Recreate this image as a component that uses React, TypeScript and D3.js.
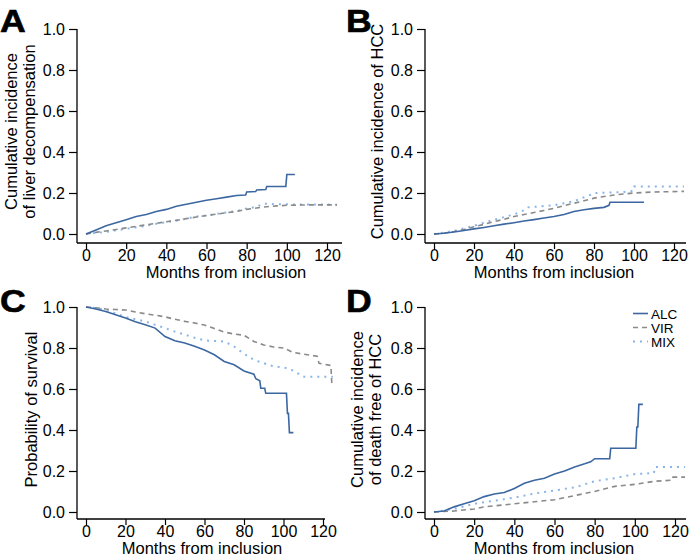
import React, { useRef, useEffect } from 'react';
import * as d3 from 'd3';

// x and y ticks shared by all four panels
const monthTicks = [0, 20, 40, 60, 80, 100, 120];
const probTicks = [0, 0.2, 0.4, 0.6, 0.8, 1.0];

const groups = ['ALC', 'VIR', 'MIX'];

// A: liver decompensation (jumps written as two close points)
const decompALC = [[0, 0], [5, 0.02], [10, 0.04], [15, 0.055], [20, 0.07], [25, 0.085], [30, 0.095], [35, 0.11], [40, 0.12], [45, 0.135], [50, 0.145], [55, 0.155], [60, 0.165], [65, 0.172], [70, 0.18], [75, 0.188], [79.5, 0.19], [80, 0.205], [84.5, 0.207], [85, 0.215], [89.5, 0.217], [90, 0.232], [99.5, 0.232], [100, 0.29], [104, 0.29]];
const decompVIR = [[0, 0], [5, 0.008], [10, 0.015], [15, 0.022], [20, 0.03], [25, 0.037], [30, 0.045], [35, 0.052], [40, 0.06], [45, 0.067], [50, 0.075], [55, 0.083], [60, 0.09], [65, 0.097], [70, 0.104], [75, 0.11], [80, 0.12], [85, 0.127], [90, 0.133], [95, 0.137], [100, 0.14], [110, 0.142], [125, 0.142]];
const decompMIX = [[0, 0], [5, 0.005], [10, 0.01], [15, 0.018], [20, 0.025], [25, 0.033], [30, 0.04], [35, 0.05], [40, 0.058], [45, 0.065], [50, 0.075], [55, 0.085], [60, 0.09], [65, 0.098], [70, 0.105], [75, 0.112], [80, 0.125], [85, 0.132], [88, 0.148], [95, 0.145], [125, 0.143]];

// B: HCC
const hccALC = [[0, 0], [5, 0.004], [10, 0.01], [15, 0.017], [20, 0.025], [25, 0.032], [30, 0.04], [35, 0.048], [40, 0.055], [45, 0.063], [50, 0.07], [55, 0.078], [60, 0.085], [65, 0.095], [70, 0.11], [75, 0.118], [80, 0.125], [85, 0.13], [87.5, 0.14], [88, 0.155], [105, 0.155]];
const hccVIR = [[0, 0], [5, 0.004], [10, 0.012], [15, 0.022], [20, 0.035], [25, 0.047], [30, 0.06], [35, 0.072], [40, 0.085], [45, 0.095], [50, 0.105], [55, 0.115], [60, 0.125], [65, 0.138], [70, 0.15], [75, 0.162], [80, 0.175], [85, 0.183], [90, 0.19], [95, 0.195], [100, 0.2], [110, 0.205], [125, 0.208]];
const hccMIX = [[0, 0], [10, 0.015], [20, 0.04], [30, 0.07], [40, 0.095], [46, 0.12], [47, 0.13], [60, 0.14], [70, 0.16], [78, 0.19], [80, 0.2], [95, 0.205], [99.5, 0.21], [100, 0.232], [125, 0.232]];

// C: overall survival
const survALC = [[0, 1], [5, 0.99], [10, 0.978], [15, 0.962], [20, 0.946], [25, 0.928], [30, 0.913], [35, 0.897], [40, 0.856], [45, 0.835], [50, 0.824], [55, 0.808], [60, 0.79], [65, 0.767], [70, 0.734], [75, 0.718], [80, 0.688], [85, 0.672], [86, 0.65], [88, 0.64], [88.5, 0.604], [90.5, 0.604], [91, 0.579], [101.5, 0.579], [102, 0.481], [102.5, 0.481], [103, 0.387], [105, 0.387]];
const survVIR = [[0, 1], [5, 0.996], [10, 0.99], [15, 0.988], [20, 0.985], [25, 0.976], [30, 0.967], [35, 0.96], [40, 0.952], [45, 0.94], [50, 0.93], [55, 0.922], [60, 0.912], [65, 0.895], [70, 0.878], [75, 0.868], [80, 0.862], [85, 0.832], [90, 0.815], [95, 0.805], [100, 0.8], [105, 0.778], [110, 0.77], [117, 0.76], [118, 0.725], [124, 0.715], [124.5, 0.62]];
const survMIX = [[0, 1], [5, 0.995], [10, 0.985], [15, 0.968], [20, 0.951], [25, 0.94], [30, 0.93], [35, 0.913], [40, 0.897], [45, 0.88], [50, 0.865], [55, 0.85], [60, 0.837], [70, 0.832], [75, 0.807], [80, 0.772], [85, 0.742], [90, 0.726], [95, 0.71], [100, 0.706], [105, 0.69], [110, 0.66], [125, 0.66]];

// D: death free of HCC
const deathALC = [[0, 0], [5, 0.005], [10, 0.025], [15, 0.04], [20, 0.055], [25, 0.075], [30, 0.088], [35, 0.095], [40, 0.115], [45, 0.14], [50, 0.155], [55, 0.165], [60, 0.185], [65, 0.2], [70, 0.22], [75, 0.235], [78, 0.245], [80, 0.26], [87.5, 0.26], [88, 0.311], [100.5, 0.311], [101, 0.415], [101.5, 0.415], [102, 0.525], [104, 0.525]];
const deathVIR = [[0, 0], [10, 0.005], [20, 0.015], [25, 0.025], [30, 0.03], [40, 0.04], [50, 0.05], [60, 0.06], [70, 0.08], [80, 0.1], [90, 0.125], [100, 0.135], [110, 0.15], [118.5, 0.155], [119, 0.17], [125, 0.17]];
const deathMIX = [[0, 0], [10, 0.015], [20, 0.04], [30, 0.055], [40, 0.07], [50, 0.09], [60, 0.105], [70, 0.12], [80, 0.15], [90, 0.165], [100, 0.185], [109.5, 0.19], [110, 0.22], [125, 0.22]];

const panels = [
  { letter: 'A', title: ['Cumulative incidence', 'of liver decompensation'], series: [decompALC, decompVIR, decompMIX],
    ox: 0, oy: 0, axisX: 77, xr: [86, 327], xEnd: 342, yr: [234, 29], base: 243, titleX: 226, legend: false },
  { letter: 'B', title: ['Cumulative incidence of HCC'], series: [hccALC, hccVIR, hccMIX],
    ox: 346, oy: 0, axisX: 79, xr: [88, 328], xEnd: 340, yr: [234, 29], base: 243, titleX: 208, legend: false },
  { letter: 'C', title: ['Probability of survival'], series: [survALC, survVIR, survMIX],
    ox: 0, oy: 280, axisX: 77, xr: [86, 323], xEnd: 325, yr: [232, 27], base: 239, titleX: 202, legend: false },
  { letter: 'D', title: ['Cumulative incidence', 'of death free of HCC'], series: [deathALC, deathVIR, deathMIX],
    ox: 346, oy: 280, axisX: 79, xr: [88, 329], xEnd: 340, yr: [232, 27], base: 239, titleX: 208, legend: true },
];

const colors = ['#3c67a1', '#8a8a8a', '#8bb5e6'];
const dashes = [null, '5,4', '2,5'];
const widths = [1.6, 1.6, 2];

const App = () => {
  const svgRef = useRef(null);

  useEffect(() => {
    document.body.style.margin = '0';
    const svg = d3.select(svgRef.current);
    svg.selectAll('*').remove();
    const font = 'Liberation Sans, Arial, sans-serif';

    panels.forEach((p) => {
      const g = svg.append('g').attr('transform', `translate(${p.ox},${p.oy})`);
      const x = d3.scaleLinear().domain([0, 120]).range(p.xr);
      const y = d3.scaleLinear().domain([0, 1]).range(p.yr);

      // panel letter, a bit wide and heavy like the original
      g.append('text').attr('transform', 'translate(0,32) scale(1.15,1)')
        .attr('font-family', font).attr('font-weight', 'bold').attr('font-size', 31)
        .attr('stroke', '#000').attr('stroke-width', 0.6)
        .text(p.letter);

      // y axis
      const yAxis = g.append('g').attr('transform', `translate(${p.axisX},0)`)
        .call(d3.axisLeft(y).tickValues(probTicks).tickFormat(d3.format('.1f')).tickSize(8).tickPadding(4));
      yAxis.select('.domain').remove();
      yAxis.selectAll('text').attr('font-size', 16).attr('font-family', font).attr('fill', '#000');
      yAxis.selectAll('line').attr('stroke', '#000').attr('stroke-width', 1.2);
      g.append('line').attr('x1', p.axisX).attr('x2', p.axisX).attr('y1', y(1)).attr('y2', p.base)
        .attr('stroke', '#000').attr('stroke-width', 1.3);

      // x axis
      const xAxis = g.append('g').attr('transform', `translate(0,${p.base})`)
        .call(d3.axisBottom(x).tickValues(monthTicks).tickSize(6).tickPadding(1));
      xAxis.select('.domain').remove();
      xAxis.selectAll('text').attr('font-size', 16).attr('font-family', font).attr('fill', '#000');
      xAxis.selectAll('line').attr('stroke', '#000').attr('stroke-width', 1.2);
      g.append('line').attr('x1', p.axisX).attr('x2', p.xEnd).attr('y1', p.base).attr('y2', p.base)
        .attr('stroke', '#000').attr('stroke-width', 1.3);

      g.append('text').attr('x', p.titleX).attr('y', p.base + 35).attr('text-anchor', 'middle')
        .attr('font-family', font).attr('font-size', 16.5).text('Months from inclusion');

      // y title, one or two lines
      const yc = (p.yr[0] + p.yr[1]) / 2;
      const bases = p.title.length === 2 ? [17, 35] : [37];
      p.title.forEach((t, i) => {
        g.append('text').attr('transform', `translate(${bases[i]},${yc}) rotate(-90)`)
          .attr('text-anchor', 'middle').attr('font-family', font).attr('font-size', 16.5).text(t);
      });

      // curves
      const line = d3.line().x((d) => x(d[0])).y((d) => y(d[1]));
      [2, 1, 0].forEach((k) => {
        g.append('path').datum(p.series[k]).attr('d', line)
          .attr('fill', 'none').attr('stroke', colors[k]).attr('stroke-width', widths[k])
          .attr('stroke-dasharray', dashes[k]);
      });

      if (p.legend) {
        groups.forEach((name, k) => {
          const ly = 33.5 + k * 14;
          g.append('line').attr('x1', 287).attr('x2', 302).attr('y1', ly).attr('y2', ly)
            .attr('stroke', colors[k]).attr('stroke-width', widths[k]).attr('stroke-dasharray', dashes[k]);
          g.append('text').attr('x', 305).attr('y', ly + 5).attr('font-family', font).attr('font-size', 13.5)
            .text(name);
        });
      }
    });
  }, []);

  return (
    <svg ref={svgRef} width={692} height={560} style={{ display: 'block', background: '#fff' }} />
  );
};

export default App;
